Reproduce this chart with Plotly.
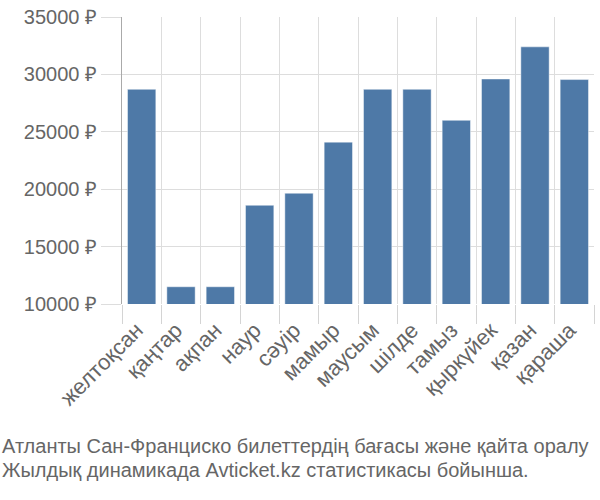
import plotly.graph_objects as go

months = ["желтоқсан", "қаңтар", "ақпан", "наур", "сәуір", "мамыр", "маусым",
          "шілде", "тамыз", "қыркүйек", "қазан", "қараша"]
prices = [28700, 11500, 11500, 18600, 19650, 24100, 28700, 28700, 26000, 29600, 32400, 29550]
y_ticks = [10000, 15000, 20000, 25000, 30000, 35000]
y_tick_text = [f"{v} ₽" for v in y_ticks]
title_lines = ["Атланты Сан-Франциско билеттердің бағасы және қайта оралу",
               "Жылдық динамикада Avticket.kz статистикасы бойынша."]

fig = go.Figure(go.Bar(
    x=months, y=prices,
    marker=dict(color="#4e79a7", line=dict(color="rgba(255,255,255,0.45)", width=1)),
))

fig.update_layout(
    width=600, height=500,
    margin=dict(l=122, r=6, t=14, b=196),
    paper_bgcolor="white", plot_bgcolor="white",
    bargap=0.28,
    showlegend=False,
    font=dict(family="Liberation Sans, Arial, sans-serif", color="#666666", size=20),
)
fig.update_xaxes(
    type="category", tickson="boundaries", showgrid=True, gridcolor="#dddddd", gridwidth=1,
    ticks="outside", ticklen=19, tickcolor="#d4d4d4", tickwidth=1, tickangle=-45,
    ticklabelstandoff=8, ticklabelshift=-5,
    showline=False, tickfont=dict(size=22, color="#666666"),
)
fig.update_yaxes(
    range=[10000, 35000], tickvals=y_ticks, ticktext=y_tick_text,
    showgrid=True, gridcolor="#dddddd", gridwidth=1,
    ticks="outside", ticklen=20, tickcolor="#dddddd", tickwidth=1,
    showline=True, linecolor="#aaaaaa", linewidth=1,
    zeroline=False, tickfont=dict(size=20, color="#666666"),
)
for i, line in enumerate(title_lines):
    fig.add_annotation(
        text=line, xref="paper", yref="paper", x=-122/472, xanchor="left",
        y=-(447 - 304)/290 - i*25/290, yanchor="middle", showarrow=False,
        font=dict(family="Liberation Sans Narrow, Arial Narrow, sans-serif", size=20, color="#666666"),
    )

fig.write_html("out.html")
